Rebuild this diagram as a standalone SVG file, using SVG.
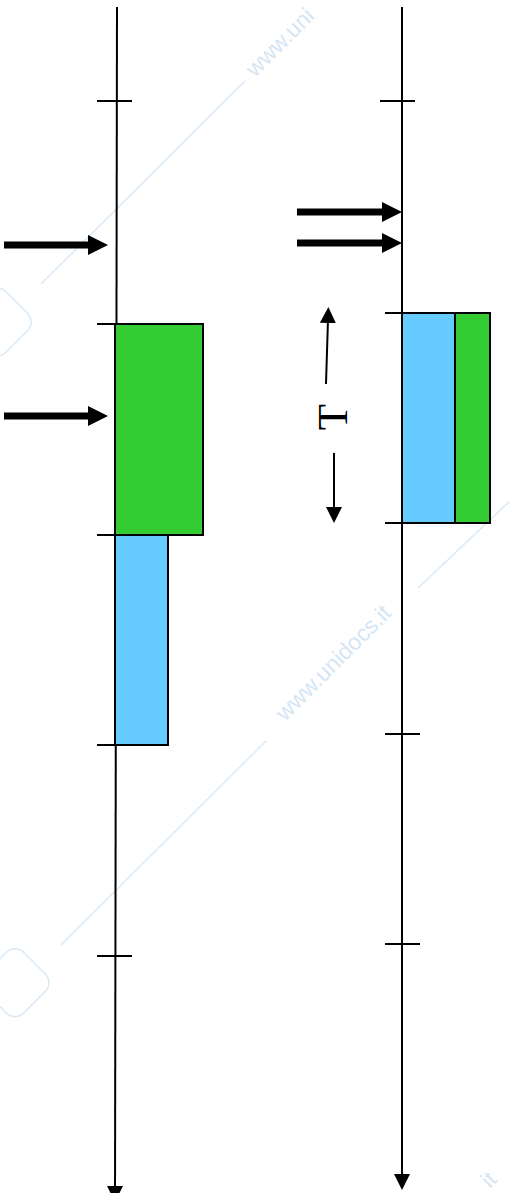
<svg xmlns="http://www.w3.org/2000/svg" width="509" height="1193" viewBox="0 0 509 1193">
<style>
.axis{stroke:#000;stroke-width:2;fill:none}
.tick{stroke:#000;stroke-width:2}
.green{fill:#33cc33;stroke:#000;stroke-width:2}
.blue{fill:#66ccff;stroke:#000;stroke-width:2}
.big{stroke:#000;stroke-width:7;fill:none}
.thin{stroke:#000;stroke-width:2;fill:none}
.wm{fill:#d4e6f6;font-family:"Liberation Sans",Arial,sans-serif;font-size:23px}
.wml{stroke:#d9e9f7;stroke-width:1.5;fill:none}
.label{font-family:"Liberation Serif","Times New Roman",serif;font-size:43px;fill:#000}
</style>
<defs>
<marker id="bigHead" viewBox="0 0 20 20" refX="2" refY="10" markerWidth="20" markerHeight="20" markerUnits="userSpaceOnUse" orient="auto">
<path d="M0,0 L20,10 L0,20 z" fill="#000"/>
</marker>
<marker id="smallHead" viewBox="0 0 16 16" refX="0" refY="8" markerWidth="16" markerHeight="16" markerUnits="userSpaceOnUse" orient="auto">
<path d="M0,0 L16,8 L0,16 z" fill="#000"/>
</marker>
</defs>
<g id="watermark">
<line class="wml" x1="41" y1="284" x2="245" y2="81"/>
<line class="wml" x1="61" y1="945" x2="266" y2="741"/>
<line class="wml" x1="418" y1="588" x2="509" y2="502"/>
<text class="wm" x="255" y="78" transform="rotate(-45 255 78)">www.uni</text>
<text class="wm" x="285" y="722" transform="rotate(-45 285 722)">www.unidocs.it</text>
<text class="wm" x="490" y="1189" transform="rotate(-45 490 1189)">it</text>
<rect class="wml" x="-30" y="295" width="55" height="55" rx="12" transform="rotate(45 -2 322)" stroke-width="3"/>
<rect class="wml" x="-12" y="955" width="55" height="55" rx="12" transform="rotate(45 15 982)" stroke-width="3"/>
</g>
<g id="connectors">
<line id="axis-left" class="axis" x1="117" y1="7" x2="115.03" y2="1186" marker-end="url(#smallHead)"/>
<line id="axis-right" class="axis" x1="402" y1="7" x2="402" y2="1174" marker-end="url(#smallHead)"/>
<g id="ticks-left">
<line class="tick" x1="97" y1="101" x2="132" y2="101"/>
<line class="tick" x1="97" y1="324" x2="132" y2="324"/>
<line class="tick" x1="97" y1="535" x2="132" y2="535"/>
<line class="tick" x1="97" y1="745" x2="132" y2="745"/>
<line class="tick" x1="97" y1="956" x2="132" y2="956"/>
</g>
<g id="ticks-right">
<line class="tick" x1="380" y1="101" x2="415" y2="101"/>
<line class="tick" x1="385" y1="313" x2="420" y2="313"/>
<line class="tick" x1="385" y1="523" x2="420" y2="523"/>
<line class="tick" x1="385" y1="734" x2="420" y2="734"/>
<line class="tick" x1="385" y1="944" x2="420" y2="944"/>
</g>
</g>
<g id="node-left-green"><rect class="green" x="115" y="324" width="88" height="211"/></g>
<g id="node-left-blue"><rect class="blue" x="115" y="535" width="53" height="210"/></g>
<g id="node-right-blue"><rect class="blue" x="402" y="313" width="53" height="210"/></g>
<g id="node-right-green"><rect class="green" x="455" y="313" width="35" height="210"/></g>
<g id="arrows">
<line class="big" x1="4" y1="245" x2="90" y2="245" marker-end="url(#bigHead)"/>
<line class="big" x1="4" y1="416" x2="90" y2="416" marker-end="url(#bigHead)"/>
<line class="big" x1="297" y1="212" x2="384" y2="212" marker-end="url(#bigHead)"/>
<line class="big" x1="297" y1="243" x2="384" y2="243" marker-end="url(#bigHead)"/>
<line class="thin" x1="326" y1="384" x2="327.9" y2="323" marker-end="url(#smallHead)"/>
<line class="thin" x1="334" y1="453" x2="334" y2="507" marker-end="url(#smallHead)"/>
</g>
<g id="label-T">
<text class="label" x="347" y="417" text-anchor="middle" transform="rotate(-90 347 417)">T</text>
</g>
</svg>
